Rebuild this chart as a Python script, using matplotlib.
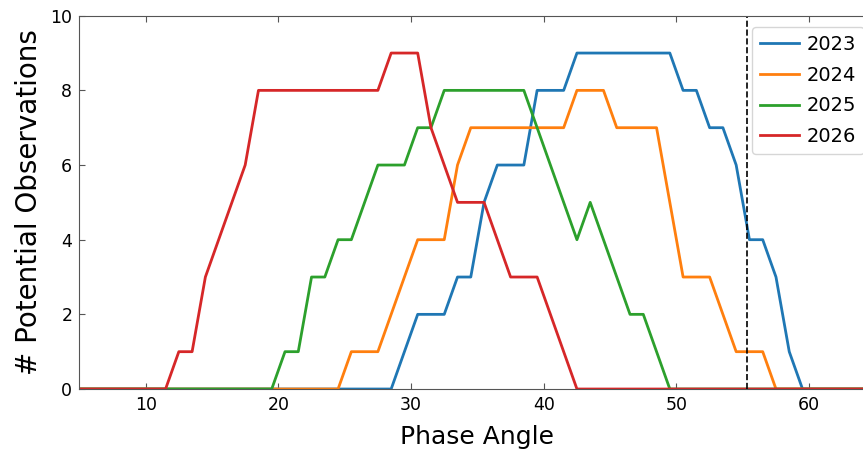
import matplotlib
matplotlib.use('Agg')
import matplotlib.pyplot as plt

# phase angle grid (deg) and number of potential observations per year
phase = [4.5, 5.5, 6.5, 7.5, 8.5, 9.5, 10.5, 11.5, 12.5, 13.5, 14.5, 15.5,
         16.5, 17.5, 18.5, 19.5, 20.5, 21.5, 22.5, 23.5, 24.5, 25.5, 26.5,
         27.5, 28.5, 29.5, 30.5, 31.5, 32.5, 33.5, 34.5, 35.5, 36.5, 37.5,
         38.5, 39.5, 40.5, 41.5, 42.5, 43.5, 44.5, 45.5, 46.5, 47.5, 48.5,
         49.5, 50.5, 51.5, 52.5, 53.5, 54.5, 55.5, 56.5, 57.5, 58.5, 59.5,
         60.5, 61.5, 62.5, 63.5, 64.5, 65.5]

obs_2023 = [0] * 25 + [1, 2, 2, 2, 3, 3, 5, 6, 6, 6, 8, 8, 8, 9,
                       9, 9, 9, 9, 9, 9, 9,
                       8, 8, 7, 7, 6, 4, 4, 3, 1, 0] + [0] * 6
obs_2024 = [0] * 21 + [1, 1, 1, 2, 3, 4, 4, 4, 6, 7, 7, 7, 7, 7, 7, 7, 7,
                       8, 8, 8, 7, 7, 7, 7, 5, 3, 3, 3, 2, 1, 1, 1, 0] + [0] * 8
obs_2025 = [0] * 16 + [1, 1, 3, 3, 4, 4, 5, 6, 6, 6, 7, 7,
                       8, 8, 8, 8, 8, 8, 8,
                       7, 6, 5, 4, 5, 4, 3, 2, 2, 1, 0] + [0] * 16
obs_2026 = [0] * 8 + [1, 1, 3, 4, 5, 6, 8, 8, 8, 8, 8, 8, 8, 8, 8, 8,
                      9, 9, 9, 7, 6, 5, 5, 5, 4, 3, 3, 3, 2, 1, 0] + [0] * 23

years = ['2023', '2024', '2025', '2026']
series = [obs_2023, obs_2024, obs_2025, obs_2026]
colors = ['tab:blue', 'tab:orange', 'tab:green', 'tab:red']

current_phase = 55.35

fig = plt.figure(figsize=(8.63, 4.49), dpi=100)
ax = fig.add_axes([0.0919, 0.1336, 0.9226, 0.8314])

for yr, vals, c in zip(years, series, colors):
    ax.plot(phase, vals, color=c, lw=2, label=yr)

ax.axvline(current_phase, color='black', ls='--', lw=1.2)

ax.set_xlim(5, 65)
ax.set_ylim(0, 10)
ax.set_xticks([10, 20, 30, 40, 50, 60])
ax.set_yticks([0, 2, 4, 6, 8, 10])
ax.tick_params(direction='in', top=True, right=True, labelsize=12.5,
               color='#555555', length=4, pad=5)
for s in ax.spines.values():
    s.set_color('#555555')

ax.set_xlabel('Phase Angle', fontsize=18, labelpad=8)
ax.set_ylabel('# Potential Observations', fontsize=20, labelpad=5)
ax.legend(loc='upper right', fontsize=14, handlelength=2.0,
          handletextpad=0.4, labelspacing=0.6, borderaxespad=0.6)

fig.savefig('out.png', dpi=100)
